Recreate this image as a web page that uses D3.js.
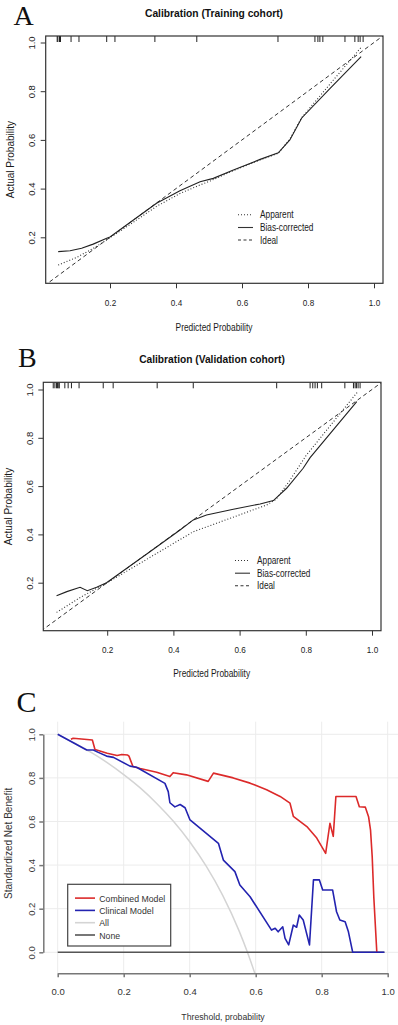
<!DOCTYPE html>
<html lang="en">
<head>
<meta charset="UTF-8">
<title>Calibration and decision curves</title>
<style>
  body { margin: 0; background: #fff; }
  svg { display: block; font-family: "Liberation Sans", Arial, sans-serif; }
</style>
<script src="https://d3js.org/d3.v7.min.js"></script>
</head>
<body>
<div id="chart"></div>
<script>
// ---------- data ----------
const calTicks = [0.2, 0.4, 0.6, 0.8, 1.0];
const calLegend = ["Apparent", "Bias-corrected", "Ideal"];
const idealLine = [0, 1.05];

// A: training cohort, [predicted, actual]
const trainApparent = [[0.043,0.086],[0.1,0.118],[0.15,0.155],[0.2,0.198],[0.271,0.262],[0.341,0.327],
  [0.412,0.38],[0.473,0.415],[0.503,0.431],[0.574,0.474],[0.655,0.518],[0.71,0.545],[0.745,0.603],
  [0.78,0.69],[0.877,0.846],[0.963,0.983]];
const trainBias = [[0.043,0.141],[0.079,0.145],[0.114,0.155],[0.149,0.172],[0.19,0.196],[0.2,0.201],
  [0.271,0.271],[0.341,0.34],[0.412,0.391],[0.473,0.428],[0.513,0.442],[0.574,0.476],[0.655,0.52],
  [0.71,0.547],[0.745,0.6],[0.781,0.69],[0.867,0.812],[0.961,0.942]];
const trainRug = [0.040,0.042,0.047,0.050,0.082,0.106,0.19,0.215,0.336,0.463,0.709,0.821,0.83,0.836,
  0.845,0.912,0.942,0.952,0.958,0.967];

// B: validation cohort
const validApparent = [[0.047,0.077],[0.12,0.14],[0.2,0.2],[0.46,0.411],[0.682,0.522],[0.71,0.545],
  [0.75,0.62],[0.8,0.725],[0.957,0.991]];
const validBias = [[0.047,0.146],[0.078,0.163],[0.118,0.181],[0.14,0.167],[0.168,0.181],[0.198,0.2],
  [0.329,0.328],[0.42,0.418],[0.46,0.46],[0.5,0.48],[0.581,0.504],[0.662,0.526],[0.702,0.54],
  [0.742,0.591],[0.792,0.674],[0.813,0.718],[0.954,0.95]];
const validRug = [0.037,0.042,0.047,0.050,0.054,0.055,0.072,0.082,0.092,0.115,0.188,0.218,0.351,0.46,
  0.712,0.813,0.821,0.828,0.835,0.848,0.918,0.944,0.949,0.953,0.958,0.964];

// C: decision curves, [threshold, standardized net benefit]
const dcaTicks = [0, 0.2, 0.4, 0.6, 0.8, 1.0];
const dcaLegend = ["Combined Model", "Clinical Model", "All", "None"];
const combined = [[0.04,0.977],[0.047,0.982],[0.105,0.974],[0.113,0.93],[0.15,0.913],[0.18,0.903],
  [0.194,0.907],[0.212,0.905],[0.216,0.9],[0.228,0.852],[0.25,0.843],[0.3,0.826],[0.34,0.806],
  [0.35,0.824],[0.39,0.814],[0.456,0.784],[0.472,0.822],[0.532,0.8],[0.583,0.776],[0.633,0.746],
  [0.674,0.715],[0.704,0.684],[0.714,0.624],[0.755,0.577],[0.785,0.524],[0.812,0.454],[0.825,0.592],
  [0.835,0.532],[0.843,0.715],[0.904,0.715],[0.914,0.668],[0.932,0.666],[0.942,0.622],[0.948,0.56],
  [0.953,0.44],[0.958,0.25],[0.967,0]];
const clinical = [[0,1],[0.078,0.936],[0.088,0.928],[0.108,0.928],[0.123,0.917],[0.148,0.9],
  [0.169,0.894],[0.219,0.854],[0.239,0.849],[0.325,0.775],[0.335,0.737],[0.34,0.686],[0.355,0.667],
  [0.371,0.678],[0.386,0.663],[0.401,0.607],[0.487,0.5],[0.502,0.423],[0.537,0.37],[0.552,0.309],
  [0.583,0.255],[0.648,0.102],[0.659,0.11],[0.668,0.094],[0.682,0.117],[0.689,0.064],[0.7,0.034],
  [0.714,0.125],[0.724,0.115],[0.732,0.171],[0.744,0.148],[0.763,0.034],[0.775,0.332],[0.793,0.332],
  [0.803,0.286],[0.833,0.286],[0.845,0.186],[0.855,0.148],[0.871,0.14],[0.881,0.094],[0.894,0],[0.99,0]];
const treatAll = [[0,1],[0.05,0.96],[0.1,0.918],[0.15,0.87],[0.2,0.815],[0.25,0.754],[0.3,0.683],
  [0.35,0.602],[0.4,0.507],[0.45,0.395],[0.5,0.261],[0.55,0.097],[0.575,0],[0.6,-0.108]];
const treatNone = [[0,0],[0.99,0]];

// ---------- drawing ----------
const svg = d3.select("#chart").append("svg").attr("width", 398).attr("height", 1025);
const serif = '"Liberation Serif", "Times New Roman", serif';

// horizontal text squeezed a little, like the source image
function hText(parent, x, y, str, size, sx, opts = {}) {
  return parent.append("text")
    .attr("transform", `translate(${x},${y}) scale(${sx},1)`)
    .attr("text-anchor", opts.anchor || "start")
    .attr("font-size", size)
    .attr("fill", opts.fill || "#1a1a1a")
    .text(str);
}

function calibrationPanel(p) {
  const x = d3.scaleLinear().domain([0, 1]).range([p.x0, p.x0 + p.xk]);
  const y = d3.scaleLinear().domain([0, 1]).range([p.y0, p.y0 - p.yk]);
  const g = svg.append("g");

  g.append("text").attr("x", p.letterX).attr("y", p.letterY)
    .attr("font-family", serif).attr("font-size", p.letterSize).attr("fill", "#111")
    .text(p.letter);

  g.append("text").attr("x", p.titleX).attr("y", p.titleY)
    .attr("text-anchor", "middle").attr("font-size", 11.5).attr("font-weight", "bold")
    .attr("fill", "#111").attr("textLength", p.titleW).attr("lengthAdjust", "spacingAndGlyphs")
    .text(p.title);

  g.append("clipPath").attr("id", "clip" + p.letter).append("rect")
    .attr("x", p.left).attr("y", p.top)
    .attr("width", p.right - p.left).attr("height", p.bottom - p.top);
  const plot = g.append("g").attr("clip-path", `url(#clip${p.letter})`);

  const line = d3.line().x(d => x(d[0])).y(d => y(d[1]));

  plot.append("path").datum(idealLine.map(v => [v, v]))
    .attr("d", line).attr("fill", "none").attr("stroke", "#333")
    .attr("stroke-width", 1).attr("stroke-dasharray", "4,3");
  plot.append("path").datum(p.apparent)
    .attr("d", line).attr("fill", "none").attr("stroke", "#333")
    .attr("stroke-width", 1.1).attr("stroke-dasharray", "1,2");
  plot.append("path").datum(p.bias)
    .attr("d", line).attr("fill", "none").attr("stroke", "#222").attr("stroke-width", 1.1);

  plot.selectAll(".rug").data(p.rug).join("line")
    .attr("x1", d => x(d)).attr("x2", d => x(d))
    .attr("y1", p.top).attr("y2", p.top + 6)
    .attr("stroke", "#222").attr("stroke-width", 1);

  g.append("rect").attr("x", p.left).attr("y", p.top)
    .attr("width", p.right - p.left).attr("height", p.bottom - p.top)
    .attr("fill", "none").attr("stroke", "#333").attr("stroke-width", 1.2);

  const xAxis = g.append("g").attr("transform", `translate(0,${p.bottom})`)
    .call(d3.axisBottom(x).tickValues(calTicks).tickFormat(d3.format(".1f")).tickSize(5).tickSizeOuter(0));
  xAxis.attr("font-family", null).attr("font-size", 9.5);
  xAxis.select(".domain").remove();
  xAxis.selectAll("line").attr("stroke", "#333");
  xAxis.selectAll("text").attr("y", p.xTickY - p.bottom).attr("dy", null)
    .attr("transform", "scale(0.86,1)").attr("fill", "#222");

  const yAxis = g.append("g").attr("transform", `translate(${p.left},0)`)
    .call(d3.axisLeft(y).tickValues(calTicks).tickFormat(d3.format(".1f")).tickSize(5).tickSizeOuter(0));
  yAxis.attr("font-family", null).attr("font-size", 9.5);
  yAxis.select(".domain").remove();
  yAxis.selectAll("line").attr("stroke", "#333");
  yAxis.selectAll("text").attr("x", 0).attr("y", p.yTickX - p.left).attr("dy", null)
    .attr("transform", "rotate(-90)").attr("text-anchor", "middle").attr("fill", "#222");

  hText(g, p.xLabX, p.xLabY, "Predicted Probability", 10, 0.84, { anchor: "middle" });
  g.append("text")
    .attr("transform", `translate(${p.yLabX},${(p.top + p.bottom) / 2}) rotate(-90)`)
    .attr("text-anchor", "middle").attr("font-size", 10).attr("fill", "#1a1a1a")
    .text("Actual Probability");

  const dashes = ["1,2", null, "3,2.5"];
  calLegend.forEach((label, i) => {
    g.append("line").attr("x1", p.legX).attr("x2", p.legX + 15)
      .attr("y1", p.legY[i] - 3.5).attr("y2", p.legY[i] - 3.5)
      .attr("stroke", "#333").attr("stroke-width", 1.1)
      .attr("stroke-dasharray", dashes[i]);
    hText(g, p.legX + 22, p.legY[i], label, 10, 0.83);
  });
}

calibrationPanel({
  letter: "A", letterX: 13.5, letterY: 24.5, letterSize: 28,
  title: "Calibration (Training cohort)", titleX: 214, titleY: 17.3, titleW: 138,
  left: 45.7, right: 383, top: 36, bottom: 283.3,
  x0: 44, xk: 330, y0: 286, yk: 243.5,
  xTickY: 306, xLabX: 214, xLabY: 331, yTickX: 35, yLabX: 13.5,
  legX: 238, legY: [218.3, 231, 243.5],
  apparent: trainApparent, bias: trainBias, rug: trainRug
});

calibrationPanel({
  letter: "B", letterX: 18, letterY: 366.7, letterSize: 28,
  title: "Calibration (Validation cohort)", titleX: 212, titleY: 362.7, titleW: 145.7,
  left: 43.3, right: 381, top: 382.3, bottom: 630.7,
  x0: 41, xk: 331, y0: 631, yk: 241.5,
  xTickY: 652.7, xLabX: 211.7, xLabY: 677.3, yTickX: 33.3, yLabX: 12,
  legX: 235, legY: [564, 576.7, 589.3],
  apparent: validApparent, bias: validBias, rug: validRug
});

// ---------- panel C: decision curves ----------
(function () {
  const left = 43.3, right = 401, top = 721.7, bottom = 973.3;
  const x = d3.scaleLinear().domain([0, 1]).range([57.7, 387.7]);
  const y = d3.scaleLinear().domain([0, 1]).range([952.3, 734.3]);
  const g = svg.append("g");

  g.append("text").attr("x", 16.5).attr("y", 712).attr("font-family", serif)
    .attr("font-size", 30).attr("fill", "#111").text("C");

  // grid
  g.selectAll(".vgrid").data(dcaTicks).join("line")
    .attr("x1", d => x(d)).attr("x2", d => x(d)).attr("y1", top).attr("y2", bottom)
    .attr("stroke", "#ececec").attr("stroke-width", 1);
  g.selectAll(".hgrid").data(dcaTicks).join("line")
    .attr("x1", left).attr("x2", right).attr("y1", d => y(d)).attr("y2", d => y(d))
    .attr("stroke", "#ececec").attr("stroke-width", 1);

  g.append("clipPath").attr("id", "clipC").append("rect")
    .attr("x", left).attr("y", top).attr("width", right - left).attr("height", bottom - top);
  const plot = g.append("g").attr("clip-path", "url(#clipC)");
  const line = d3.line().x(d => x(d[0])).y(d => y(d[1]));

  const series = [
    { data: treatAll, color: "#d4d4d4", w: 1.5, curve: d3.curveMonotoneX },
    { data: treatNone, color: "#555555", w: 1.5, curve: d3.curveLinear },
    { data: combined, color: "#dc2a2a", w: 1.6, curve: d3.curveLinear },
    { data: clinical, color: "#2323b0", w: 1.6, curve: d3.curveLinear }
  ];
  series.forEach(s => {
    plot.append("path").datum(s.data).attr("d", line.curve(s.curve))
      .attr("fill", "none").attr("stroke", s.color).attr("stroke-width", s.w)
      .attr("stroke-linejoin", "round");
  });

  const xAxis = g.append("g").attr("transform", `translate(0,${bottom})`)
    .call(d3.axisBottom(x).tickValues(dcaTicks).tickFormat(d3.format(".1f")).tickSize(4).tickSizeOuter(0));
  xAxis.attr("font-family", null).attr("font-size", 9.5);
  xAxis.selectAll(".domain, line").attr("stroke", "#777").attr("stroke-width", 1.5);
  xAxis.selectAll("text").attr("y", 995 - bottom).attr("dy", null).attr("fill", "#333");

  const yAxis = g.append("g").attr("transform", `translate(${left},0)`)
    .call(d3.axisLeft(y).tickValues(dcaTicks).tickFormat(d3.format(".1f")).tickSize(4).tickSizeOuter(0));
  yAxis.attr("font-family", null).attr("font-size", 9.5);
  yAxis.selectAll(".domain, line").attr("stroke", "#777").attr("stroke-width", 1.5);
  yAxis.selectAll("text").attr("x", 0).attr("y", 35 - left).attr("dy", null)
    .attr("transform", "rotate(-90)").attr("text-anchor", "middle").attr("fill", "#333");

  hText(g, 223, 1020, "Threshold, probability", 9.5, 0.92, { anchor: "middle", fill: "#333" });
  g.append("text").attr("transform", `translate(11.5,${(y(0) + y(1)) / 2}) rotate(-90)`)
    .attr("text-anchor", "middle").attr("font-size", 10).attr("fill", "#333")
    .text("Standardized Net Benefit");

  // legend
  g.append("rect").attr("x", 67.7).attr("y", 884.3).attr("width", 103).attr("height", 61.7)
    .attr("fill", "#fff").attr("stroke", "#444").attr("stroke-width", 1.2);
  const legColors = ["#dc2a2a", "#2323b0", "#d4d4d4", "#555555"];
  dcaLegend.forEach((label, i) => {
    const by = 901.6 + i * 12.3;
    g.append("line").attr("x1", 75).attr("x2", 95).attr("y1", by - 3.5).attr("y2", by - 3.5)
      .attr("stroke", legColors[i]).attr("stroke-width", 1.6);
    hText(g, 99.3, by, label, 9.5, 0.92, { fill: "#333" });
  });
})();
</script>
</body>
</html>
